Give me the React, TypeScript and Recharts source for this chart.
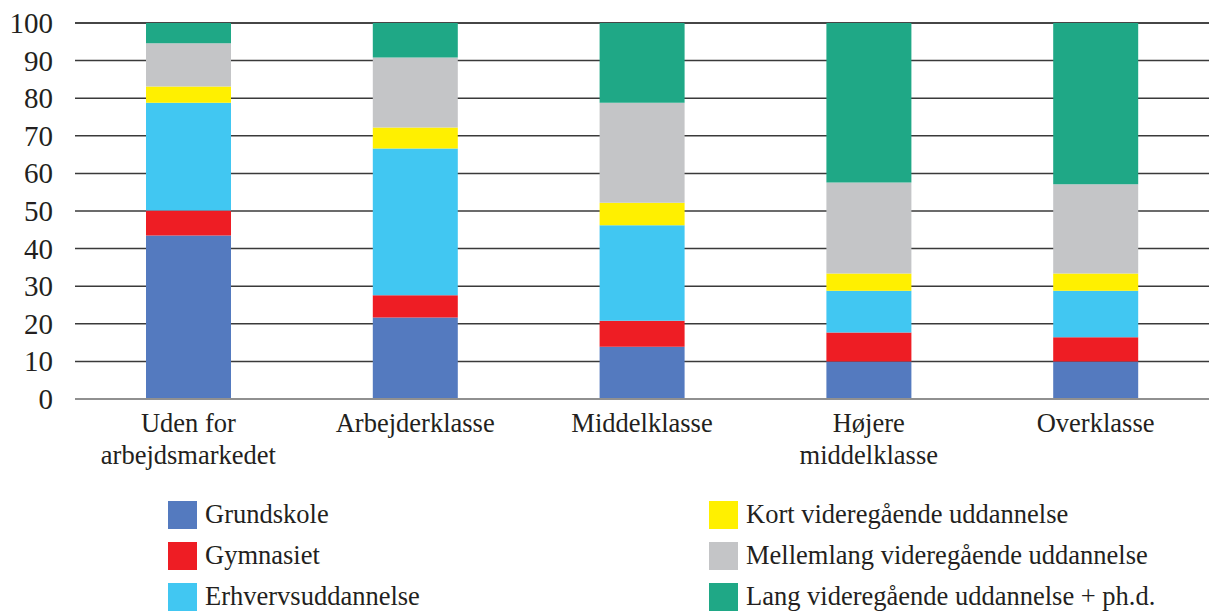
import { BarChart, Bar, XAxis, YAxis, CartesianGrid, Legend } from "recharts";

const categoryLines = [
  ["Uden for", "arbejdsmarkedet"],
  ["Arbejderklasse"],
  ["Middelklasse"],
  ["Højere", "middelklasse"],
  ["Overklasse"],
];
const categories = categoryLines.map((l) => l.join(" "));

const grundskole = [43.5, 21.7, 13.9, 10.0, 10.0];
const gymnasiet = [6.6, 5.9, 6.9, 7.7, 6.4];
const erhverv = [28.7, 39.0, 25.4, 11.1, 12.4];
const kort = [4.3, 5.6, 6.0, 4.6, 4.6];
const mellemlang = [11.5, 18.6, 26.6, 24.2, 23.7];
const lang = [5.4, 9.2, 21.2, 42.4, 42.9];

const yTicks = [0, 10, 20, 30, 40, 50, 60, 70, 80, 90, 100];

const series = [
  { key: "grundskole", name: "Grundskole", color: "#547abf", values: grundskole },
  { key: "gymnasiet", name: "Gymnasiet", color: "#ee1d24", values: gymnasiet },
  { key: "erhverv", name: "Erhvervsuddannelse", color: "#41c7f2", values: erhverv },
  { key: "kort", name: "Kort videregående uddannelse", color: "#fff000", values: kort },
  { key: "mellemlang", name: "Mellemlang videregående uddannelse", color: "#c4c5c7", values: mellemlang },
  { key: "lang", name: "Lang videregående uddannelse + ph.d.", color: "#1fa886", values: lang },
];

const data = categories.map((c, i) => {
  const row: Record<string, string | number> = { name: c };
  series.forEach((s) => (row[s.key] = s.values[i]));
  return row;
});

const FONT = "'Liberation Serif', 'Times New Roman', serif";
const TEXT = "#231f20";

function CategoryTick(props: any) {
  const { x, y, index } = props;
  const lines = categoryLines[index] || [];
  return (
    <text x={x} y={y} textAnchor="middle" fill={TEXT} fontFamily={FONT} fontSize={26.5}>
      {lines.map((line, i) => (
        <tspan key={i} x={x} dy={i === 0 ? 33 : 32}>
          {line}
        </tspan>
      ))}
    </text>
  );
}

function ValueTick(props: any) {
  const { x, y, payload } = props;
  return (
    <text x={x} y={y} dy={10} textAnchor="end" fill={TEXT} fontFamily={FONT} fontSize={29}>
      {payload.value}
    </text>
  );
}

function LegendBox() {
  return (
    <div
      style={{
        height: 123,
        display: "grid",
        gridTemplateColumns: "541px auto",
        gridTemplateRows: "repeat(3, 41px)",
        gridAutoFlow: "column",
        paddingLeft: 168,
        fontFamily: FONT,
        fontSize: 26.5,
        color: TEXT,
      }}
    >
      {series.map((s) => (
        <div key={s.key} style={{ display: "flex", alignItems: "center" }}>
          <span style={{ width: 29, height: 28, background: s.color, marginRight: 8, flex: "none" }} />
          <span>{s.name}</span>
        </div>
      ))}
    </div>
  );
}

export default function App() {
  return (
    <div style={{ position: "absolute", left: 0, top: 0, background: "#fff" }}>
      <BarChart
        width={1209}
        height={615}
        data={data}
        margin={{ top: 23, right: 0, left: 0, bottom: 0 }}
        barSize={85}
      >
        <CartesianGrid vertical={false} stroke="#3a3a3a" strokeWidth={1.5} />
        <XAxis
          dataKey="name"
          height={93}
          interval={0}
          tickLine={false}
          tickSize={0}
          tickMargin={0}
          axisLine={{ stroke: "#909090", strokeWidth: 2 }}
          tick={<CategoryTick />}
        />
        <YAxis
          width={75}
          domain={[0, 100]}
          ticks={yTicks}
          interval={0}
          axisLine={false}
          tickLine={false}
          tickSize={0}
          tickMargin={22}
          tick={<ValueTick />}
        />
        <Legend
          verticalAlign="bottom"
          content={<LegendBox />}
          wrapperStyle={{ left: 0, top: 494, width: 1209 }}
        />
        {series.map((s) => (
          <Bar
            key={s.key}
            dataKey={s.key}
            name={s.name}
            stackId="a"
            fill={s.color}
            isAnimationActive={false}
          />
        ))}
      </BarChart>
    </div>
  );
}
